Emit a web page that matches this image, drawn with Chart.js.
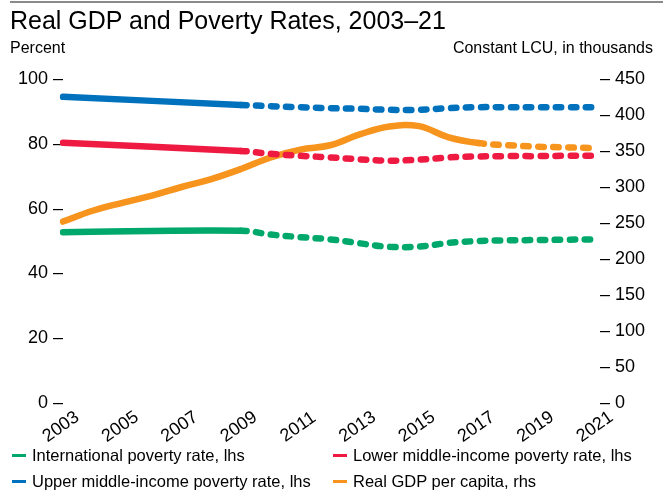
<!DOCTYPE html>
<html>
<head>
<meta charset="utf-8">
<script src="https://cdn.jsdelivr.net/npm/chart.js@4"></script>
<style>
  body { margin: 0; background: #fff; font-family: Arial, "Liberation Sans", sans-serif; color: #000; }
  #wrap { position: relative; width: 663px; height: 491px; overflow: hidden; }
  #grafico { position: absolute; left: 0; top: 0; }
  .topo { position: absolute; left: 10px; right: 0; top: 1px; border-top: 2px solid #8a8a8a; }
  .titulo { position: absolute; left: 10px; top: 7px; font-size: 25px; line-height: 27px; white-space: nowrap; }
  .unidade { position: absolute; top: 40px; font-size: 16px; line-height: 16px; white-space: nowrap; }
  .legenda { position: absolute; font-size: 16.5px; line-height: 16px; white-space: nowrap; }
  .legenda i { display: inline-block; width: 14px; height: 3px; vertical-align: middle; margin-right: 6px; position: relative; top: -1px; }
</style>
</head>
<body>
<div id="wrap">
  <canvas id="grafico" width="663" height="491"></canvas>
  <div class="topo"></div>
  <div class="titulo">Real GDP and Poverty Rates, 2003–21</div>
  <div class="unidade" style="left:10px">Percent</div>
  <div class="unidade" style="right:10px">Constant LCU, in thousands</div>
  <div class="legenda" style="left:12px; top:447px"><i style="background:#00A86B"></i>International poverty rate, lhs</div>
  <div class="legenda" style="left:333px; top:447px"><i style="background:#EF1A42"></i>Lower middle-income poverty rate, lhs</div>
  <div class="legenda" style="left:12px; top:473px"><i style="background:#0071BC"></i>Upper middle-income poverty rate, lhs</div>
  <div class="legenda" style="left:333px; top:473px"><i style="background:#F7941D"></i>Real GDP per capita, rhs</div>
</div>
<script>
// Dados
const anos = ['2003', '2004', '2005', '2006', '2007', '2008', '2009', '2010', '2011', '2012',
              '2013', '2014', '2015', '2016', '2017', '2018', '2019', '2020', '2021'];
const rotulosX = ['2003', '2005', '2007', '2009', '2011', '2013', '2015', '2017', '2019', '2021'];

const pobrezaInternacional = [52.7, null, null, null, null, null, 53.2, 52.0, 51.2, 50.5,
                              49.3, 48.2, 48.3, 49.4, 50.0, 50.2, 50.3, 50.4, 50.5];
const pobrezaRendaMediaBaixa = [80.3, null, null, null, null, null, 77.8, 76.9, 76.3, 75.8,
                                75.2, 74.8, 75.1, 75.8, 76.1, 76.2, 76.2, 76.3, 76.3];
const pobrezaRendaMediaAlta = [94.5, null, null, null, null, null, 92.0, 91.6, 91.3, 91.0,
                               90.8, 90.5, 90.5, 91.0, 91.3, 91.3, 91.3, 91.3, 91.3];
const pibPerCapita = [252, 267, 278, 288, 300, 311, 325, 341, 352, 358,
                      373, 384, 384.5, 369, 361, 358, 356, 355, 354];

// Ano a partir do qual a linha fica tracejada
const inicioTracejado = { intl: '2009', baixa: '2009', alta: '2009', pib: '2017' };

const tracejado = [5.5, 9.5];

function serie(label, data, cor, eixo, inicio) {
    const idx = anos.indexOf(inicio);
    return {
        label: label,
        data: data,
        yAxisID: eixo,
        borderColor: cor,
        backgroundColor: cor,
        borderWidth: 6.5,
        borderCapStyle: 'round',
        borderJoinStyle: 'round',
        pointRadius: 0,
        pointHoverRadius: 0,
        tension: 0.4,
        spanGaps: true,
        segment: {
            borderDash: ctx => ctx.p0DataIndex >= idx ? tracejado : undefined
        }
    };
}

// Rótulos do eixo X inclinados, centrados em cada ano
const rotulosInclinados = {
    id: 'rotulosInclinados',
    afterDraw(chart) {
        const c = chart.ctx;
        const x = chart.scales.x;
        c.save();
        c.font = '18px Arial, "Liberation Sans", sans-serif';
        c.fillStyle = '#000';
        c.textAlign = 'center';
        c.textBaseline = 'middle';
        rotulosX.forEach(r => {
            const px = x.getPixelForValue(anos.indexOf(r));
            c.save();
            c.translate(px - 2, 427);
            c.rotate(-35 * Math.PI / 180);
            c.fillText(r, 0, 0);
            c.restore();
        });
        c.restore();
    }
};

const fonteTick = { family: 'Arial, "Liberation Sans", sans-serif', size: 18 };

const ctx = document.getElementById('grafico').getContext('2d');
const grafico = new Chart(ctx, {
    type: 'line',
    data: {
        labels: anos,
        datasets: [
            serie('International poverty rate, lhs', pobrezaInternacional, '#00A86B', 'y', inicioTracejado.intl),
            serie('Lower middle-income poverty rate, lhs', pobrezaRendaMediaBaixa, '#EF1A42', 'y', inicioTracejado.baixa),
            serie('Upper middle-income poverty rate, lhs', pobrezaRendaMediaAlta, '#0071BC', 'y', inicioTracejado.alta),
            serie('Real GDP per capita, rhs', pibPerCapita, '#F7941D', 'y1', inicioTracejado.pib)
        ]
    },
    options: {
        responsive: false,
        animation: false,
        layout: { padding: { top: 79, left: 0, right: 0, bottom: 0 } },
        plugins: {
            legend: { display: false },
            tooltip: { enabled: false },
            title: { display: false }
        },
        scales: {
            x: {
                offset: false,
                grid: { display: false, drawTicks: false },
                border: { display: false },
                ticks: { display: false },
                afterFit: s => { s.height = 88; }
            },
            y: {
                position: 'left',
                min: 0,
                max: 100,
                grid: { display: false, drawTicks: false },
                border: { display: false },
                ticks: {
                    stepSize: 20,
                    padding: 0,
                    color: '#000',
                    font: fonteTick,
                    callback: v => v + ' –'
                },
                afterFit: s => { s.width = 63; }
            },
            y1: {
                position: 'right',
                min: 0,
                max: 450,
                grid: { display: false, drawTicks: false },
                border: { display: false },
                ticks: {
                    stepSize: 50,
                    padding: 3,
                    color: '#000',
                    font: fonteTick,
                    callback: v => '– ' + v
                },
                afterFit: s => { s.width = 66; }
            }
        }
    },
    plugins: [rotulosInclinados]
});
</script>
</body>
</html>
